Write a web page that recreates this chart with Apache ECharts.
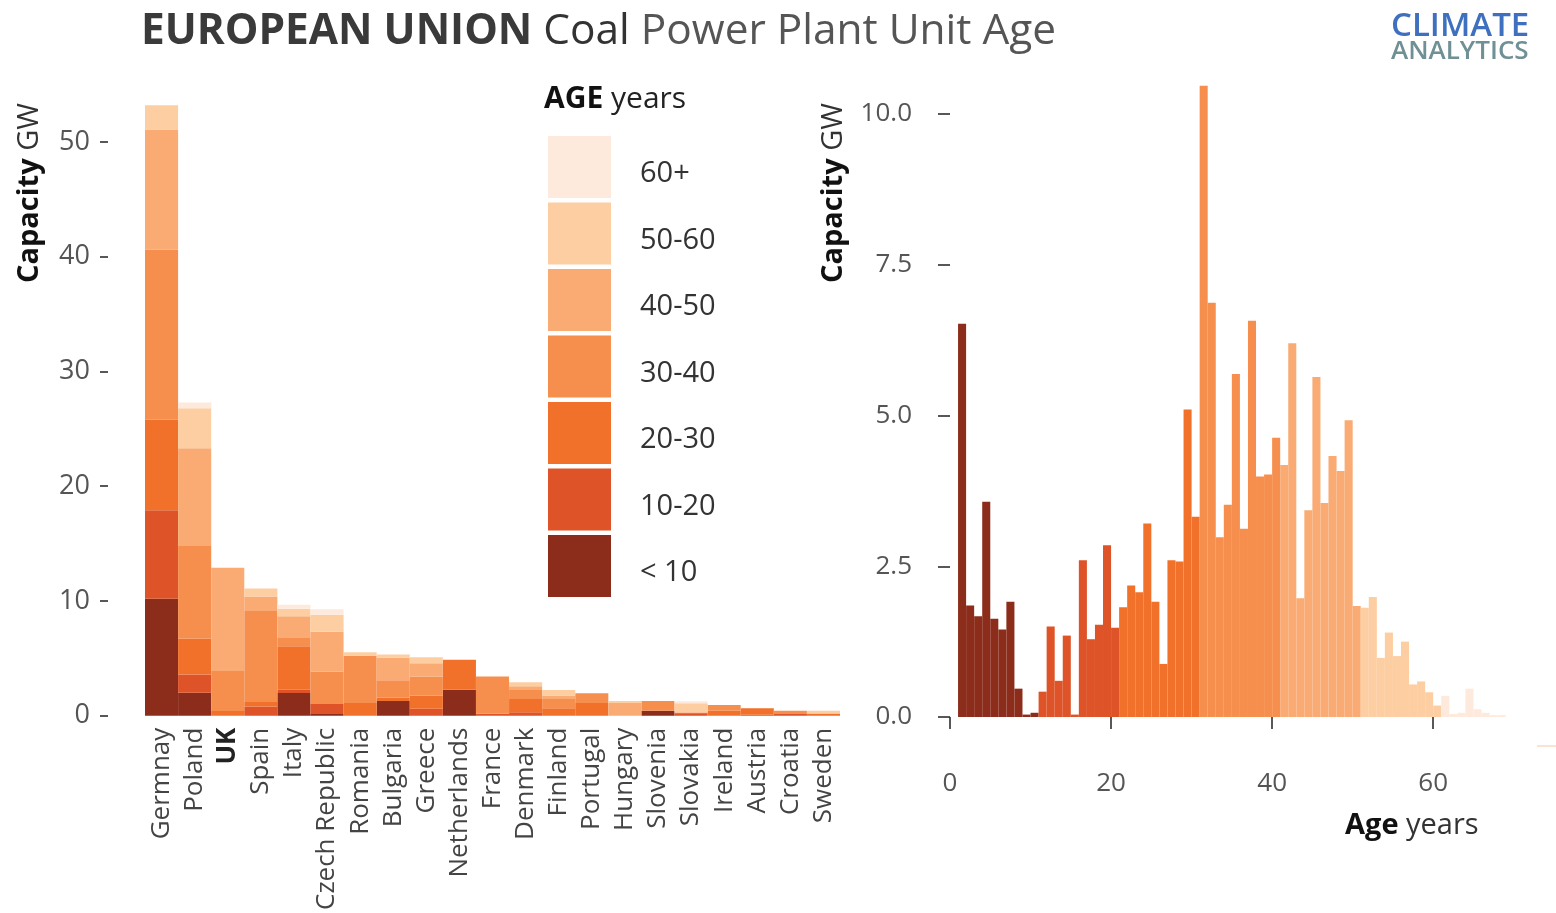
<!DOCTYPE html>
<html>
<head>
<meta charset="utf-8">
<script src="https://cdn.jsdelivr.net/npm/echarts@6/dist/echarts.min.js"></script>
<style>
html,body{margin:0;padding:0;background:#fff;}
#chart{width:1556px;height:913px;}
</style>
</head>
<body>
<div id="chart"></div>
<script>
// ---------- DATA ----------
const countries = ['Germnay','Poland','UK','Spain','Italy','Czech Republic','Romania','Bulgaria','Greece','Netherlands','France','Denmark','Finland','Portugal','Hungary','Slovenia','Slovakia','Ireland','Austria','Croatia','Sweden'];
const ageGroups = ['< 10','10-20','20-30','30-40','40-50','50-60','60+'];
const groupColors = ['#8c2c1b','#de5327','#f2712a','#f68e4d','#f9ab73','#fdcea1','#feeadc'];

// capacity (GW) per country by age group
const capLt10  = [10.2, 2.0, 0,   0,    1.97, 0.15, 0,    1.28, 0,    2.26, 0,    0,    0,    0,    0,    0.44, 0,    0,    0,    0,    0];
const cap10_20 = [7.7,  1.6, 0,   0.81, 0.29, 0.87, 0,    0,    0.61, 0,    0.17, 0.29, 0,    0,    0,    0,    0.14, 0,    0.09, 0.14, 0];
const cap20_30 = [7.9,  3.1, 0.4, 0.38, 3.8,  0,    1.1,  0.29, 1.16, 2.61, 0,    1.16, 0.64, 1.1,  0,    0,    0.14, 0.44, 0.55, 0,    0.2];
const cap30_40 = [14.8, 8.1, 3.5, 8.0,  0.78, 2.84, 4.12, 1.51, 1.65, 0,    3.25, 0.79, 0.82, 0.85, 0,    0.85, 0,    0.49, 0,    0.29, 0];
const cap40_50 = [10.5, 8.5, 9.0, 1.2,  1.83, 3.45, 0,    1.97, 1.16, 0,    0,    0.32, 0.29, 0,    1.1,  0,    0,    0,    0,    0,    0];
const cap50_60 = [2.1,  3.5, 0,   0.7,  0.64, 1.48, 0.32, 0.29, 0.52, 0,    0,    0.35, 0.49, 0,    0.17, 0,    0.8,  0,    0,    0,    0.23];
const cap60p   = [0,    0.5, 0,   0,    0.35, 0.49, 0,    0,    0,    0,    0,    0,    0,    0,    0,    0,    0.17, 0,    0,    0,    0];
const capByGroup = [capLt10, cap10_20, cap20_30, cap30_40, cap40_50, cap50_60, cap60p];

// histogram: capacity (GW) by unit age (1-year bins starting at these ages)
const binStartAge = [1,2,3,4,5,6,7,8,9,10, 11,12,13,14,15,16,17,18,19,20, 21,22,23,24,25,26,27,28,29,30,
  31,32,33,34,35,36,37,38,39,40, 41,42,43,44,45,46,47,48,49,50, 51,52,53,54,55,56,57,58,59,60, 61,62,63,64,65,66,67,68];
const histCapacity = [
  6.52,1.85,1.67,3.57,1.63,1.45,1.91,0.47,0.04,0.07,
  0.42,1.50,0.60,1.35,0.04,2.60,1.29,1.53,2.85,1.48,
  1.82,2.18,2.07,3.21,1.91,0.88,2.60,2.58,5.10,3.32,
  10.47,6.87,2.98,3.52,5.69,3.12,6.57,3.99,4.02,4.63,
  4.18,6.20,1.97,3.43,5.64,3.55,4.33,4.08,4.92,1.84,
  1.81,1.99,0.98,1.40,1.01,1.25,0.54,0.59,0.41,0.19,
  0.35,0.05,0.07,0.47,0.13,0.07,0.03,0.03
];

const leftTicks = [0,10,20,30,40,50];
const rightTicks = [0,2.5,5,7.5,10];
const ageTicks = [0,20,40,60];

// ---------- CHART ----------
const chart = echarts.init(document.getElementById('chart'), null, {renderer:'canvas'});
const FONT = '"Open Sans", "Noto Sans", sans-serif';

function groupOfAge(a){ return a <= 10 ? 0 : Math.min(6, Math.floor((a - 1) / 10)); }

const barSeries = ageGroups.map((g, i) => ({
  name: g, type: 'bar', stack: 'cap', xAxisIndex: 0, yAxisIndex: 0,
  barCategoryGap: '0%', clip: false,
  itemStyle: {color: groupColors[i]},
  emphasis: {disabled: true},
  data: capByGroup[i]
}));

const histSeries = ageGroups.map((g, i) => ({
  name: g, type: 'custom', xAxisIndex: 1, yAxisIndex: 1, clip: false,
  encode: {x: [0, 1], y: 2},
  itemStyle: {color: groupColors[i]},
  data: binStartAge.map((a, k) => groupOfAge(a) === i ? [a, a + 1, histCapacity[k]] : null).filter(d => d),
  renderItem: (params, api) => {
    const p0 = api.coord([api.value(0), api.value(2)]);
    const p1 = api.coord([api.value(1), 0]);
    return {type: 'rect', shape: {x: p0[0], y: p0[1], width: p1[0] - p0[0], height: p1[1] - p0[1]},
      style: {fill: groupColors[i]}};
  }
}));

const option = {
  backgroundColor: '#ffffff',
  animation: false,
  textStyle: {fontFamily: FONT},
  grid: [
    {left: 145, top: 142, width: 695, height: 575},
    {left: 950, top: 114, width: 604, height: 603}
  ],
  xAxis: [
    {type: 'category', gridIndex: 0, data: countries,
      axisLine: {show: false}, axisTick: {show: false},
      axisLabel: {rotate: 90, interval: 0, margin: 12, fontSize: 26, color: '#444', fontFamily: FONT,
        formatter: v => v === 'UK' ? '{b|UK}' : v,
        rich: {b: {fontWeight: 'bold', fontSize: 26, color: '#222', fontFamily: FONT}}}},
    {type: 'value', gridIndex: 1, min: 0, max: 75, offset: 21,
      axisLine: {show: false}, splitLine: {show: false},
      axisTick: {show: true, length: 12, customValues: ageTicks, lineStyle: {color: '#222', width: 1.5}},
      axisLabel: {margin: 33, fontSize: 26, color: '#555', fontFamily: FONT, customValues: ageTicks}}
  ],
  yAxis: [
    {type: 'value', gridIndex: 0, min: leftTicks[0], max: leftTicks[leftTicks.length-1], interval: 10, offset: 37,
      axisLine: {show: false}, splitLine: {show: false},
      axisTick: {show: true, length: 8, lineStyle: {color: '#222', width: 1.5}},
      axisLabel: {margin: 18, fontSize: 27, color: '#555', fontFamily: FONT}},
    {type: 'value', gridIndex: 1, min: rightTicks[0], max: rightTicks[rightTicks.length-1], interval: 2.5, offset: 8,
      axisLine: {show: false}, splitLine: {show: false},
      axisTick: {show: true, length: 12, lineStyle: {color: '#222', width: 1.5}},
      axisLabel: {margin: 30, fontSize: 26, color: '#555', fontFamily: FONT, formatter: v => v.toFixed(1)}}
  ],
  legend: {
    orient: 'vertical', left: 548, top: 136, padding: 0,
    data: ageGroups.slice().reverse().map(n => ({name: n, icon: 'rect'})),
    itemWidth: 63, itemHeight: 62, itemGap: 4.5,
    selectedMode: false,
    formatter: name => '{a|' + name + '}',
    textStyle: {fontSize: 29, color: '#333', fontFamily: FONT, padding: [0, 0, 0, 24],
      rich: {a: {fontSize: 29, color: '#333', fontFamily: FONT, padding: [14, 0, 0, 0]}}}
  },
  series: [...barSeries, ...histSeries],
  graphic: [
    {type: 'text', left: 141, top: 11, style: {
      text: '{b|EUROPEAN UNION }{c|Coal }{r|Power Plant Unit Age}',
      rich: {
        b: {fontSize: 42.4, fontWeight: 'bold', fill: '#3a3a3a', fontFamily: FONT},
        c: {fontSize: 42.4, fill: '#333', fontFamily: FONT},
        r: {fontSize: 42.4, fill: '#555', fontFamily: FONT}
      }}},
    {type: 'text', left: 544, top: 84, style: {
      text: '{b|AGE }{r|years}',
      rich: {b: {fontSize: 30, fontWeight: 'bold', fill: '#111', fontFamily: FONT},
             r: {fontSize: 30, fill: '#222', fontFamily: FONT}}}},
    {type: 'text', x: 30, y: 193, rotation: Math.PI / 2, style: {
      text: '{b|Capacity }{r|GW}', align: 'center', verticalAlign: 'middle',
      rich: {b: {fontSize: 29, fontWeight: 'bold', fill: '#111', fontFamily: FONT},
             r: {fontSize: 29, fill: '#333', fontFamily: FONT}}}},
    {type: 'text', x: 834, y: 193, rotation: Math.PI / 2, style: {
      text: '{b|Capacity }{r|GW}', align: 'center', verticalAlign: 'middle',
      rich: {b: {fontSize: 29, fontWeight: 'bold', fill: '#111', fontFamily: FONT},
             r: {fontSize: 29, fill: '#333', fontFamily: FONT}}}},
    {type: 'text', left: 1345, top: 811, style: {
      text: '{b|Age }{r|years}',
      rich: {b: {fontSize: 29, fontWeight: 'bold', fill: '#111', fontFamily: FONT},
             r: {fontSize: 29, fill: '#333', fontFamily: FONT}}}},
    {type: 'text', left: 1391, top: 10, style: {
      text: 'CLIMATE', fontSize: 33, fontWeight: 600, fill: '#3f6fbf', fontFamily: FONT}},
    {type: 'text', left: 1391, top: 39, style: {
      text: 'ANALYTICS', fontSize: 26, fontWeight: 600, fill: '#6f9095', fontFamily: FONT}},
    {type: 'line', shape: {x1: 1537, y1: 746, x2: 1556, y2: 746}, style: {stroke: '#fbd9c6', lineWidth: 1.5}}
  ]
};
chart.setOption(option);
</script>
</body>
</html>
